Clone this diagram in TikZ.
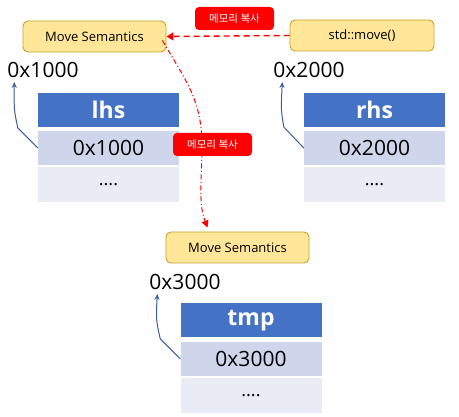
\documentclass[tikz,border=0pt]{standalone}
\usepackage{fontspec}
\setmainfont{Open Sans}
\newfontfamily\krfont{Noto Sans CJK KR}
\usetikzlibrary{arrows.meta,positioning,calc}
\definecolor{boxfill}{HTML}{FFE699}
\definecolor{boxline}{HTML}{C9A227}
\definecolor{hdr}{HTML}{4472C4}
\definecolor{rowa}{HTML}{CFD5EA}
\definecolor{rowb}{HTML}{E9EBF5}
\definecolor{ptr}{HTML}{3C5E9C}
\definecolor{redc}{HTML}{FF0000}
\begin{document}
\begin{tikzpicture}[x=1pt,y=-1pt,
  semb/.style={draw=boxline,fill=boxfill,rounded corners=5pt,line width=0.9pt,
    minimum width=143pt,minimum height=31pt,inner sep=0pt,font=\fontsize{13}{15}\selectfont},
  redlab/.style={fill=redc,rounded corners=4pt,minimum width=79pt,minimum height=23pt,
    inner sep=0pt,text=white,font=\krfont\fontsize{10.5}{12}\selectfont},
  addr/.style={inner sep=0pt,font=\fontsize{21}{24}\selectfont},
  hdrrow/.style={fill=hdr,minimum width=141pt,minimum height=34pt,inner sep=0pt,
    text=white,font=\bfseries\fontsize{23}{26}\selectfont},
  valrow/.style={fill=rowa,minimum width=141pt,minimum height=34pt,inner sep=0pt,
    font=\fontsize{21}{24}\selectfont},
  dotrow/.style={fill=rowb,minimum width=141pt,minimum height=35pt,inner sep=0pt,
    font=\fontsize{18}{20}\selectfont},
  ptrarrow/.style={draw=ptr,line width=1pt,-{Stealth[length=6pt,width=5pt]}},
  copyarrow/.style={draw=redc,line width=1.4pt,dash pattern=on 6pt off 4pt,-{Triangle[length=7pt,width=8pt]}},
  curvearrow/.style={draw=redc,line width=1pt,dash pattern=on 5pt off 2.5pt on 1pt off 2.5pt,-{Triangle[length=7pt,width=7pt]}}
]
\useasboundingbox (0,0) rectangle (459,417);

% top boxes
\node[semb] (ms1) at (94.5,36.5) {Move Semantics};
\node[semb,minimum width=144pt] (mv) at (362,35.5) {std::move()};
\node[redlab] (lab1) at (234.5,18.5) {메모리 복사};

% address labels
\node[addr] (a1) at (43,70) {0x1000};
\node[addr] (a2) at (309,70) {0x2000};

% lhs table
\node[hdrrow] (l0) at (108.5,110) {lhs};
\node[valrow] (l1) at (108.5,148) {0x1000};
\node[dotrow] (l2) at (108.5,184.5) {....};

% rhs table
\node[hdrrow] (r0) at (374.5,110) {rhs};
\node[valrow] (r1) at (374.5,148) {0x2000};
\node[dotrow] (r2) at (374.5,184.5) {....};

% second box
\node[semb] (ms2) at (237.5,247.5) {Move Semantics};

\node[addr] (a3) at (185,282) {0x3000};
\node[hdrrow] (t0) at (251,320.5) {tmp};
\node[valrow] (t1) at (251,359) {0x3000};
\node[dotrow] (t2) at (251,395.5) {....};

% connectors
\draw[copyarrow] (mv.west) -- (ms1.east);
\draw[curvearrow] ([xshift=-4pt,yshift=-4pt]ms1.east) .. controls (185,80) and (203,100) .. (202,150)
   .. controls (201,190) and (199,205) .. ([xshift=-30pt,yshift=4pt]ms2.north);

\draw[ptrarrow] (l1.west) -- ++(-20,-20) .. controls (14,110) .. ([xshift=7pt,yshift=-4pt]a1.south west);
\draw[ptrarrow] (r1.west) -- ++(-20,-21) .. controls (281,110) .. ([xshift=9pt,yshift=-4pt]a2.south west);
\draw[ptrarrow] (t1.west) -- ++(-20,-20) .. controls (156,320) .. ([xshift=8pt,yshift=-4pt]a3.south west);

% label over the curve
\node[redlab] (lab2) at (212.5,144.5) {메모리 복사};
\end{tikzpicture}
\end{document}
